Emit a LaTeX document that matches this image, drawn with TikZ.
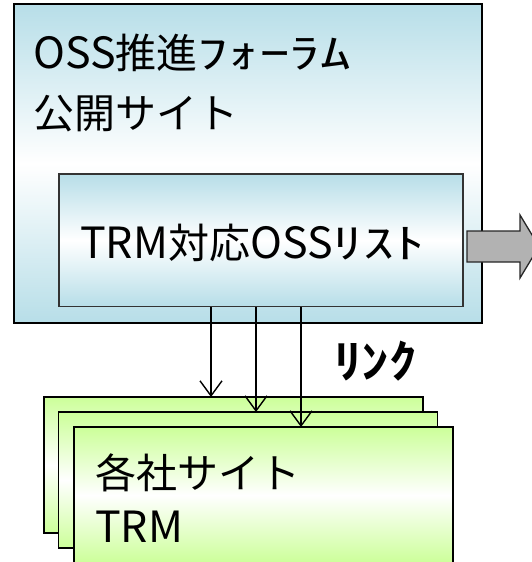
\documentclass[tikz,border=0pt]{standalone}
\usepackage{graphicx}
\usepackage{fontspec}
\setmainfont{Noto Sans CJK JP}
\newfontfamily\jpbold{Noto Sans CJK JP Bold}
\usetikzlibrary{arrows.meta}
\definecolor{paleblue}{RGB}{183,222,232}
\definecolor{palegreen}{RGB}{204,255,153}
\definecolor{arrowgray}{RGB}{178,178,178}
% Latin letters a little larger than the kanji; half-width kana widened
\newcommand{\latinrun}[1]{{\fontsize{43}{49}\selectfont #1}}
\newcommand{\kanarun}[1]{\scalebox{1.5}[1]{#1}}
\tikzset{
  bluebox/.style={draw=black, line width=1.6pt, rectangle, inner sep=0pt,
    top color=paleblue, bottom color=paleblue, middle color=white},
  innerbox/.style={draw=black!80, line width=1.3pt, rectangle, inner sep=0pt,
    top color=paleblue, bottom color=paleblue, middle color=white},
  sitebox/.style={draw=black, line width=1.3pt, rectangle, inner sep=0pt,
    minimum width=379pt, minimum height=136pt,
    top color=palegreen, bottom color=palegreen, middle color=white},
  bigtext/.style={anchor=base west, inner sep=0pt,
    font=\fontsize{41}{49}\selectfont},
  linkarrow/.style={line width=1.4pt, -{Straight Barb[length=15pt,width=22pt,line width=1.4pt]}},
}
\begin{document}
\begin{tikzpicture}[x=1pt,y=1pt]
\useasboundingbox (0,0) rectangle (532,-562);
\clip (0,0) rectangle (532,-562);

% public site of the forum
\node[bluebox, minimum width=468pt, minimum height=319pt] (site) at (248,-163.5) {};
\node[bigtext] (title1) at (33,-68) {\latinrun{OSS}推進\kanarun{ﾌｫｰﾗﾑ}};
\node[bigtext] (title2) at (33,-128) {公開サイト};

% OSS list
\node[innerbox, minimum width=404pt, minimum height=132.5pt] (list) at (261,-240.25) {};
\node[bigtext] (listtext) at (80,-258) {\latinrun{TRM}対応\latinrun{OSS}\kanarun{ﾘｽﾄ}};

% outgoing block arrow
\path[draw=black!85, line width=1.3pt, fill=arrowgray]
  (467,-231) -- (520,-231) -- (520,-215) -- (539,-246.5) -- (520,-278)
  -- (520,-262) -- (467,-262) -- cycle;

% stacked company sites
\node[sitebox] (siteA) at (233.5,-465) {};
\node[sitebox] (siteB) at (248,-480) {};
\node[sitebox] (siteC) at (263.5,-495) {};
\node[bigtext] (co1) at (95,-488) {各社サイト};
\node[bigtext] (co2) at (95,-542) {\latinrun{TRM}};

% links
\coordinate (tipA) at (211,-397);
\coordinate (tipB) at (256,-412);
\coordinate (tipC) at (301,-427);
\draw[linkarrow] (tipA |- list.south) -- (tipA);
\draw[linkarrow] (tipB |- list.south) -- (tipB);
\draw[linkarrow] (tipC |- list.south) -- (tipC);
\node[anchor=base west, inner sep=0pt, xscale=1.2,
  font=\jpbold\fontsize{46}{50}\selectfont] (link) at (334,-378) {ﾘﾝｸ};
\end{tikzpicture}
\end{document}
